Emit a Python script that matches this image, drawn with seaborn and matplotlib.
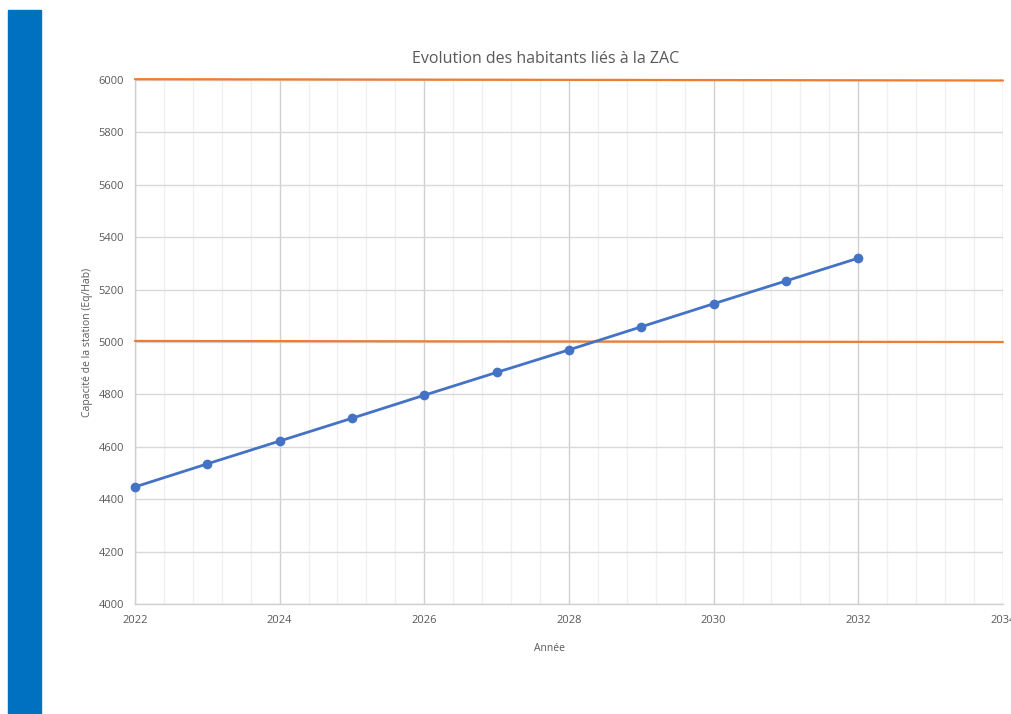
import numpy as np
import pandas as pd
import matplotlib
matplotlib.use("Agg")
import matplotlib.pyplot as plt
import seaborn as sns
from matplotlib.ticker import MultipleLocator

# data
YEARS = [2022, 2023, 2024, 2025, 2026, 2027, 2028, 2029, 2030, 2031, 2032]
HABITANTS = [4447, 4535, 4622, 4709, 4797, 4884, 4970, 5058, 5146, 5233, 5320]

LIMIT_YEARS = [2022, 2034]
LIMIT_HIGH = [6003, 5998]
LIMIT_LOW = [5004, 5000]

TITLE = "Evolution des habitants liés à la ZAC"
XLABEL = "Année"
YLABEL = "Capacité de la station (Eq/Hab)"

BLUE = "#4472C4"
ORANGE = "#ED7D31"
TEXT = "#595959"

sns.set_style("white")
plt.rcParams["font.family"] = ["Open Sans", "DejaVu Sans"]

hab = pd.DataFrame({"annee": YEARS, "habitants": HABITANTS})
lim = pd.DataFrame({
    "annee": LIMIT_YEARS * 2,
    "valeur": LIMIT_HIGH + LIMIT_LOW,
    "serie": ["haut"] * 2 + ["bas"] * 2,
})

fig = plt.figure(figsize=(10.11, 7.14), dpi=100)
ax = fig.add_axes([0.1335, 0.154, 0.8585, 0.734])

# decorative blue band on the left edge
fig.patches.append(plt.Rectangle((8 / 1011, 0), 33 / 1011, 1 - 10 / 714,
                                 transform=fig.transFigure, color="#0070C0",
                                 zorder=0))

sns.lineplot(data=lim, x="annee", y="valeur", units="serie", estimator=None,
             color=ORANGE, lw=1.6, ax=ax, zorder=3)
sns.lineplot(data=hab, x="annee", y="habitants", color=BLUE, lw=2,
             marker="o", markersize=7, markeredgewidth=0, ax=ax, zorder=4)
for ln in ax.lines:
    ln.set_clip_on(False)

ax.set_xlim(2022, 2034)
ax.set_ylim(4000, 6000)
ax.xaxis.set_major_locator(MultipleLocator(2))
ax.xaxis.set_minor_locator(MultipleLocator(0.4))
ax.yaxis.set_major_locator(MultipleLocator(200))

ax.grid(True, which="major", axis="y", color="#d9d9d9", lw=1)
ax.grid(True, which="major", axis="x", color="#d0d0d0", lw=1)
ax.grid(True, which="minor", axis="x", color="#f0f0f0", lw=1)
ax.set_axisbelow(True)

for side in ["top", "right"]:
    ax.spines[side].set_visible(False)
for side in ["left", "bottom"]:
    ax.spines[side].set_color("#d0d0d0")
    ax.spines[side].set_linewidth(1)

ax.tick_params(which="both", length=0, colors=TEXT, labelsize=8)
ax.tick_params(axis="x", pad=8)
ax.tick_params(axis="y", pad=8)

ax.set_title(TITLE, color=TEXT, fontsize=11.5, pad=12, x=0.4735)
ax.set_xlabel(XLABEL, color=TEXT, fontsize=7.5, labelpad=12)
ax.xaxis.set_label_coords(0.478, -0.075)
ax.set_ylabel(YLABEL, color=TEXT, fontsize=7.5, labelpad=4)

fig.savefig("out.png", dpi=100)
